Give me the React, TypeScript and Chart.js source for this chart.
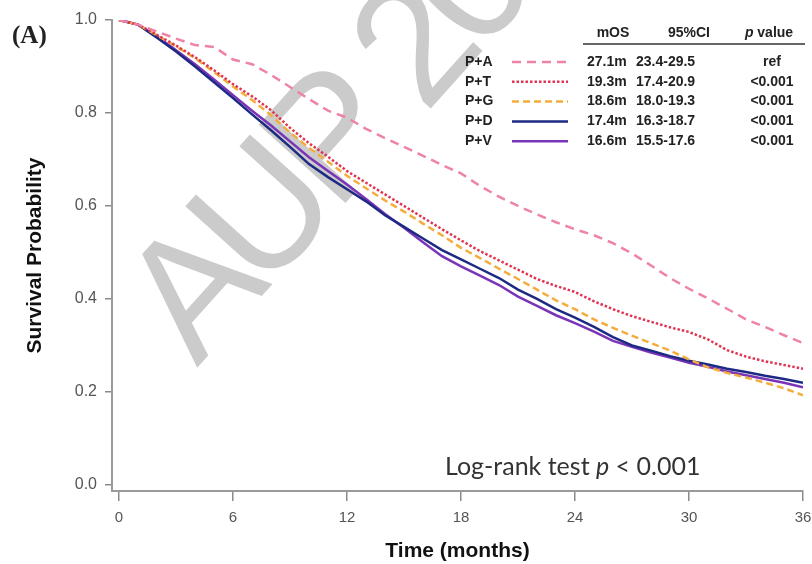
import React, { useEffect, useRef } from 'react';
import { Chart, registerables } from 'chart.js';

Chart.register(...registerables);

// ---- data ----
const months = [0, 1, 2, 3, 4, 5, 6, 7, 8, 9, 10, 11, 12, 13, 14, 15, 16, 17, 18, 19, 20, 21, 22, 23, 24, 25, 26, 27, 28, 29, 30, 31, 32, 33, 34, 35, 36];

const survPA = [1.0, 0.99, 0.975, 0.96, 0.946, 0.942, 0.915, 0.905, 0.882, 0.856, 0.83, 0.805, 0.79, 0.766, 0.746, 0.727, 0.708, 0.688, 0.67, 0.643, 0.62, 0.6, 0.582, 0.565, 0.55, 0.537, 0.52, 0.498, 0.472, 0.445, 0.422, 0.401, 0.379, 0.356, 0.34, 0.322, 0.305];
const survPT = [1.0, 0.99, 0.968, 0.945, 0.92, 0.892, 0.862, 0.836, 0.806, 0.768, 0.735, 0.706, 0.675, 0.65, 0.625, 0.6, 0.575, 0.55, 0.526, 0.503, 0.483, 0.463, 0.443, 0.428, 0.415, 0.395, 0.378, 0.363, 0.351, 0.339, 0.329, 0.313, 0.29, 0.276, 0.266, 0.258, 0.25];
const survPG = [1.0, 0.99, 0.967, 0.943, 0.918, 0.888, 0.857, 0.828, 0.795, 0.758, 0.725, 0.695, 0.665, 0.638, 0.612, 0.588, 0.562, 0.537, 0.51, 0.488, 0.465, 0.443, 0.42, 0.397, 0.378, 0.356, 0.338, 0.321, 0.305, 0.289, 0.27, 0.253, 0.241, 0.231, 0.22, 0.208, 0.193];
const survPD = [1.0, 0.99, 0.962, 0.932, 0.9, 0.866, 0.832, 0.797, 0.763, 0.727, 0.69, 0.662, 0.636, 0.61, 0.58, 0.555, 0.53, 0.505, 0.485, 0.465, 0.445, 0.42, 0.4, 0.378, 0.36, 0.34, 0.318, 0.3, 0.289, 0.277, 0.267, 0.259, 0.25, 0.243, 0.235, 0.228, 0.22];
const survPV = [1.0, 0.99, 0.965, 0.935, 0.905, 0.872, 0.838, 0.805, 0.773, 0.739, 0.705, 0.675, 0.646, 0.615, 0.583, 0.553, 0.522, 0.492, 0.47, 0.45, 0.43, 0.405, 0.385, 0.365, 0.348, 0.33, 0.31, 0.297, 0.285, 0.274, 0.263, 0.254, 0.244, 0.236, 0.228, 0.22, 0.21];

const seriesNames = ['P+A', 'P+T', 'P+G', 'P+D', 'P+V'];
const medianOS = ['27.1m', '19.3m', '18.6m', '17.4m', '16.6m'];
const ci95 = ['23.4-29.5', '17.4-20.9', '18.0-19.3', '16.3-18.7', '15.5-17.6'];
const pValues = ['ref', '<0.001', '<0.001', '<0.001', '<0.001'];
const tableHeaders = ['mOS', '95%CI', 'p value'];

const xTicks = [0, 6, 12, 18, 24, 30, 36];
const yTicks = [0, 0.2, 0.4, 0.6, 0.8, 1.0];

const colors = ['#ee82aa', '#df3553', '#f4ad3c', '#1d2a84', '#7a34b8'];
const dashes: number[][] = [[9, 6], [2.5, 2], [7, 4], [], []];

const FONT = '"Liberation Sans", Arial, Helvetica, sans-serif';

const overlayPlugin = {
  id: 'overlay',
  beforeDatasetsDraw(chart: any) {
    const ctx = chart.ctx as any;
    ctx.save();
    ctx.translate(197, 368);
    ctx.rotate((-48 * Math.PI) / 180);
    ctx.font = `170px ${FONT}`;
    try { ctx.letterSpacing = '-14px'; } catch (e) {}
    ctx.fillStyle = 'rgba(185,185,185,0.75)';
    ctx.textBaseline = 'alphabetic';
    ctx.textAlign = 'left';
    ctx.fillText('AUP 20', 0, 0);
    ctx.restore();
  },
  afterDraw(chart: any) {
    const ctx = chart.ctx as CanvasRenderingContext2D;
    ctx.save();
    // panel label
    ctx.fillStyle = '#222';
    ctx.font = 'bold 25px "Liberation Serif", "DejaVu Serif", serif';
    ctx.textBaseline = 'middle';
    ctx.textAlign = 'left';
    ctx.fillText('(A)', 12, 37);

    // table header
    const bold = `bold 14px ${FONT}`;
    const boldIt = `italic bold 14px ${FONT}`;
    ctx.font = bold;
    ctx.textAlign = 'center';
    ctx.fillText(tableHeaders[0], 613, 33);
    ctx.fillText(tableHeaders[1], 689, 33);
    // "p value" with italic p
    const pv = tableHeaders[2];
    const first = pv.slice(0, 1);
    const rest = pv.slice(1);
    ctx.font = boldIt;
    const w1 = ctx.measureText(first).width;
    ctx.font = bold;
    const w2 = ctx.measureText(rest).width;
    const start = 769 - (w1 + w2) / 2;
    ctx.textAlign = 'left';
    ctx.font = boldIt;
    ctx.fillText(first, start, 33);
    ctx.font = bold;
    ctx.fillText(rest, start + w1, 33);

    ctx.strokeStyle = '#333';
    ctx.lineWidth = 1.5;
    ctx.beginPath();
    ctx.moveTo(583, 44);
    ctx.lineTo(805, 44);
    ctx.stroke();

    // rows
    const rowY0 = 62;
    const rowStep = 19.8;
    seriesNames.forEach((name, i) => {
      const y = rowY0 + i * rowStep;
      ctx.font = bold;
      ctx.fillStyle = '#222';
      ctx.textAlign = 'left';
      ctx.fillText(name, 465, y);
      ctx.fillText(medianOS[i], 587, y);
      ctx.fillText(ci95[i], 636, y);
      ctx.textAlign = 'center';
      ctx.fillText(pValues[i], 772, y);
      ctx.save();
      ctx.strokeStyle = colors[i];
      ctx.lineWidth = 2.5;
      ctx.setLineDash(dashes[i]);
      ctx.beginPath();
      ctx.moveTo(512, y);
      ctx.lineTo(568, y);
      ctx.stroke();
      ctx.restore();
    });

    // log-rank text
    const reg = `25px Lato, "Liberation Sans", sans-serif`;
    const it = `italic 25px Lato, "Liberation Sans", sans-serif`;
    ctx.fillStyle = '#333';
    ctx.textAlign = 'left';
    let x = 445;
    const parts: [string, string][] = [['Log-rank test ', reg], ['p', it], [' < 0.001', reg]];
    parts.forEach(([t, f]) => {
      ctx.font = f;
      ctx.fillText(t, x, 467);
      x += ctx.measureText(t).width;
    });
    ctx.restore();
  },
};

export default function App() {
  const canvasRef = useRef<HTMLCanvasElement | null>(null);

  useEffect(() => {
    if (!canvasRef.current) return;
    const allSeries = [survPA, survPT, survPG, survPD, survPV];
    const chart = new Chart(canvasRef.current, {
      type: 'line',
      data: {
        datasets: allSeries.map((s, i) => ({
          label: seriesNames[i],
          data: months.map((m, j) => ({ x: m, y: s[j] })),
          borderColor: colors[i],
          backgroundColor: colors[i],
          borderWidth: 2.5,
          borderDash: dashes[i],
          pointRadius: 0,
          fill: false,
          tension: 0,
        })),
      },
      options: {
        animation: false,
        responsive: false,
        maintainAspectRatio: false,
        layout: { padding: { top: 20, right: 9, left: 0, bottom: 0 } },
        plugins: { legend: { display: false }, tooltip: { enabled: false } },
        scales: {
          x: {
            type: 'linear',
            min: -0.37,
            max: 36,
            afterBuildTicks: (s: any) => {
              s.ticks = xTicks.map((v) => ({ value: v }));
            },
            afterFit: (s: any) => {
              s.height = 73;
              s.paddingLeft = 0;
              s.paddingRight = 0;
            },
            grid: { display: true, drawOnChartArea: false, drawTicks: true, tickLength: 10, color: '#8a8a8a', lineWidth: 1.5 },
            border: { display: true, color: '#9a9a9a', width: 2 },
            ticks: { padding: 8, color: '#555', font: { size: 15, family: FONT }, maxRotation: 0, autoSkip: false },
            title: { display: true, text: 'Time (months)', color: '#111', font: { size: 21, weight: 'bold', family: FONT }, padding: { top: 0, bottom: 0 } },
          },
          y: {
            type: 'linear',
            min: -0.013,
            max: 1,
            afterBuildTicks: (s: any) => {
              s.ticks = yTicks.map((v) => ({ value: v }));
            },
            afterFit: (s: any) => {
              s.width = 112;
              s.paddingTop = 0;
              s.paddingBottom = 0;
            },
            grid: { display: true, drawOnChartArea: false, drawTicks: true, tickLength: 7, color: '#8a8a8a', lineWidth: 1.5 },
            border: { display: true, color: '#9a9a9a', width: 2 },
            ticks: { padding: 8, color: '#555', font: { size: 16, family: FONT }, callback: (v: any) => Number(v).toFixed(1) },
            title: { display: true, text: 'Survival Probability', color: '#111', font: { size: 21, weight: 'bold', family: FONT }, padding: { top: 23, bottom: 0 } },
          },
        },
      },
      plugins: [overlayPlugin],
    });
    return () => chart.destroy();
  }, []);

  return (
    <div style={{ position: 'absolute', left: 0, top: 0, width: 812, height: 564, background: '#fff' }}>
      <canvas ref={canvasRef} width={812} height={564} style={{ width: 812, height: 564, display: 'block' }} />
    </div>
  );
}
